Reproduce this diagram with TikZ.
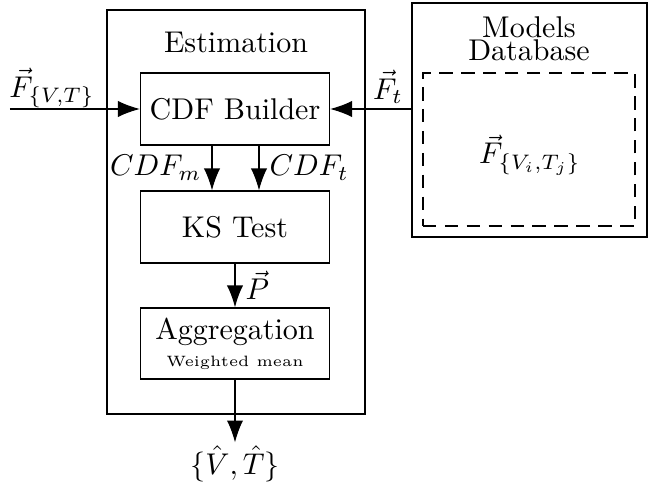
\documentclass[tikz,border=0pt]{standalone}
\usepackage{amsmath}
\usepackage{amssymb}
\usetikzlibrary{arrows.meta}
\tikzset{
  block/.style={draw, minimum width=63pt, minimum height=24pt, inner sep=0pt},
  flow/.style={-{Latex[length=7.3pt,width=5.4pt]}},
}
\begin{document}
\begin{tikzpicture}[x=0.3333pt,y=-0.3333pt]
            \useasboundingbox (0,0) rectangle (656,483);
            % estimation part
            \node[draw, minimum width=86pt, minimum height=134.7pt, inner sep=0pt] (estbox) at (236,212) {};
            \node (esttitle) at (236,42) {Estimation};
            \node[block] (cdf) at (235,109) {CDF Builder};
            \node[block] (ks) at (235,227) {KS Test};
            \node[block, minimum height=23.7pt, align=center] (agg) at (235,343.5) {Aggregation\\[-3pt]{\tiny Weighted mean}};
            % models database
            \node[draw, minimum width=78.3pt, minimum height=78pt, inner sep=0pt] (dbox) at (529.5,120) {};
            \node[align=center] (dbtitle) at (529,39) {Models\\[-4.5pt]Database};
            \node[draw, dash pattern=on 4.5pt off 2.8pt, minimum width=70.7pt, minimum height=51pt, inner sep=0pt] (store) at (529,149.5) {};
            \node (fvt) at (530,155) {$\vec{F}_{\{V_i,T_j\}}$};
            % arrows
            \coordinate (in) at (10,109);
            \coordinate (mx) at (212,0);
            \coordinate (tx) at (259,0);
            \node[inner sep=1pt] (out) at (235,464) {$\{\hat{V},\hat{T}\}$};
            \draw[flow] (in) -- (cdf);
            \node (fin) at (52,88) {$\vec{F}_{\{V,T\}}$};
            \draw[flow] (cdf.east -| dbox.west) -- (cdf.east);
            \node (ft) at (388,87) {$\vec{F}_t$};
            \draw[flow] (cdf.south -| mx) -- (ks.north -| mx) node[midway,left] {$CDF_m$};
            \draw[flow] (cdf.south -| tx) -- (ks.north -| tx) node[midway,right] {$CDF_t$};
            \draw[flow] (ks) -- (agg) node[midway,right] {$\vec{P}$};
            \draw[flow] (agg) -- (out);
        \end{tikzpicture}
\end{document}
